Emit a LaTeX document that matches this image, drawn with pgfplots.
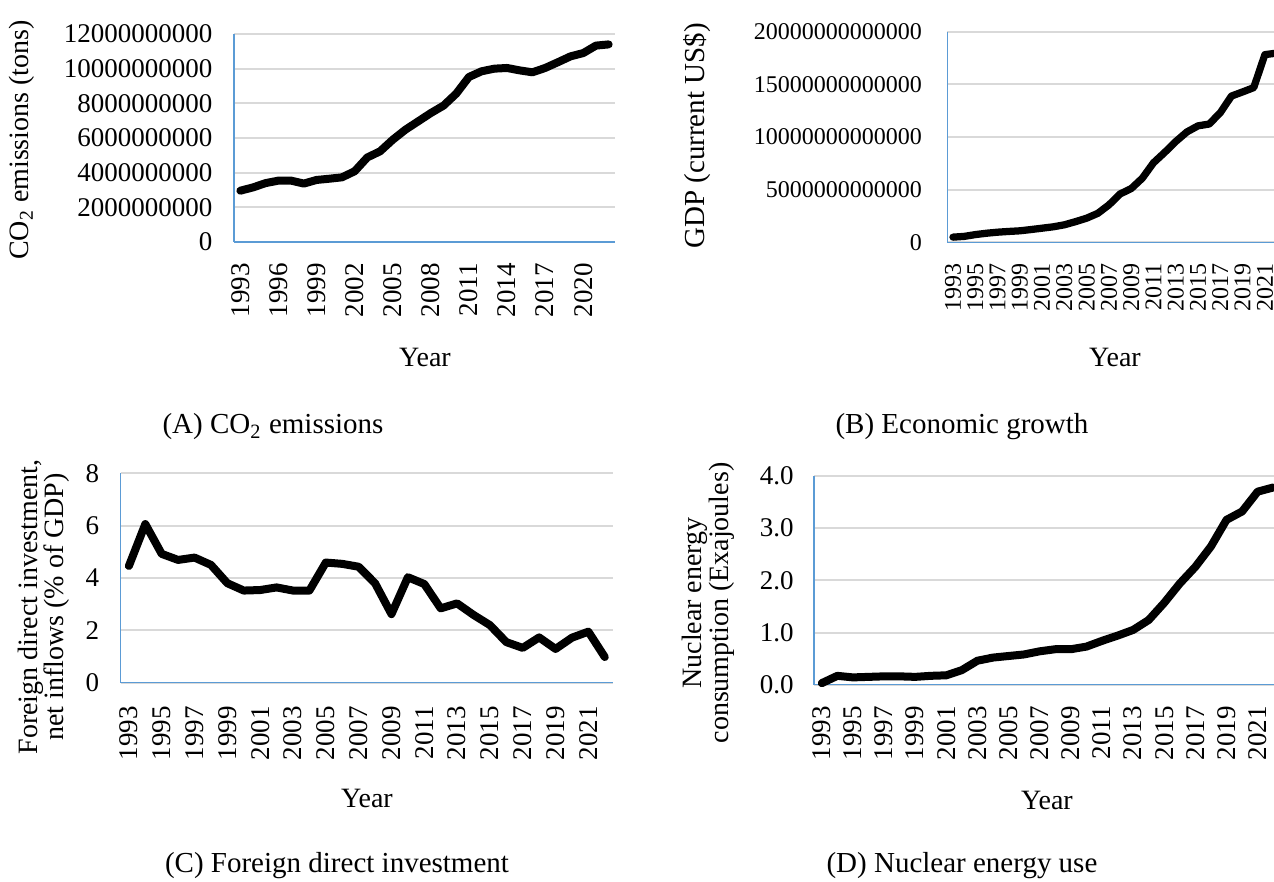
\documentclass[border=0pt]{standalone}
\usepackage{fontspec}
\setmainfont{Liberation Serif}
\usepackage{pgfplots}
\pgfplotsset{compat=1.18}
\definecolor{axblue}{HTML}{5B9BD5}
\definecolor{grd}{HTML}{D9D9D9}
\newcommand{\U}{0.4pt}
\newcommand{\tickfont}{\fontsize{10.8}{12}\selectfont}
\newcommand{\labfont}{\fontsize{11.2}{12.5}\selectfont}
\newcommand{\capfont}{\fontsize{11.6}{13}\selectfont}

\pgfplotstableread{
year val
1993 2.96e9
1994 3.15e9
1995 3.40e9
1996 3.54e9
1997 3.54e9
1998 3.37e9
1999 3.58e9
2000 3.65e9
2001 3.73e9
2002 4.08e9
2003 4.88e9
2004 5.23e9
2005 5.90e9
2006 6.48e9
2007 6.96e9
2008 7.44e9
2009 7.87e9
2010 8.56e9
2011 9.52e9
2012 9.85e9
2013 10.00e9
2014 10.04e9
2015 9.90e9
2016 9.79e9
2017 10.04e9
2018 10.37e9
2019 10.71e9
2020 10.90e9
2021 11.33e9
2022 11.40e9
}\co

\pgfplotstableread{
year val
1993 0.49e12
1994 0.56e12
1995 0.73e12
1996 0.86e12
1997 0.96e12
1998 1.03e12
1999 1.09e12
2000 1.21e12
2001 1.34e12
2002 1.47e12
2003 1.66e12
2004 1.96e12
2005 2.29e12
2006 2.75e12
2007 3.55e12
2008 4.59e12
2009 5.10e12
2010 6.09e12
2011 7.55e12
2012 8.53e12
2013 9.57e12
2014 10.48e12
2015 11.06e12
2016 11.23e12
2017 12.31e12
2018 13.89e12
2019 14.28e12
2020 14.69e12
2021 17.82e12
2022 17.96e12
}\gdp

\pgfplotstableread{
year val
1993 4.46
1994 6.06
1995 4.92
1996 4.69
1997 4.78
1998 4.50
1999 3.80
2000 3.52
2001 3.54
2002 3.64
2003 3.52
2004 3.52
2005 4.59
2006 4.54
2007 4.43
2008 3.80
2009 2.62
2010 4.03
2011 3.77
2012 2.84
2013 3.03
2014 2.59
2015 2.20
2016 1.55
2017 1.33
2018 1.73
2019 1.29
2020 1.72
2021 1.95
2022 0.98
}\fdi

\pgfplotstableread{
year val
1993 0.03
1994 0.17
1995 0.14
1996 0.15
1997 0.16
1998 0.16
1999 0.15
2000 0.17
2001 0.18
2002 0.28
2003 0.46
2004 0.52
2005 0.55
2006 0.58
2007 0.64
2008 0.68
2009 0.68
2010 0.73
2011 0.84
2012 0.94
2013 1.05
2014 1.24
2015 1.57
2016 1.94
2017 2.26
2018 2.65
2019 3.16
2020 3.32
2021 3.70
2022 3.78
}\nuc

\pgfplotsset{
  panel/.style={
    scale only axis,
    anchor=south west,
    axis lines=left,
    axis line style={-, draw=axblue, line width=0.6pt},
    ymajorgrids,
    grid style={draw=grd, line width=0.8pt},
    major tick length=0pt,
    xmin=1992.5, xmax=2022.5,
    clip=false,
    scaled y ticks=false,
    scaled x ticks=false,
    /pgf/number format/assume math mode=true,
    yticklabel style={font=\tickfont, anchor=east, inner sep=0pt,
      /pgf/number format/fixed, /pgf/number format/precision=0,
      /pgf/number format/1000 sep={}},
    xticklabel style={font=\tickfont, rotate=90, anchor=east, inner sep=0pt,
      /pgf/number format/1000 sep={}},
  },
  dataline/.style={black, no markers, line width=3.2pt, line join=round, line cap=round},
}

\begin{document}
\begin{tikzpicture}
\path[use as bounding box] (0,0) rectangle (509.6pt,-352.8pt);

% ---------- (A) ----------
\begin{axis}[panel,
  at={(93.6pt,-96.8pt)},
  width=152.4pt, height=83.2pt,
  ymin=0, ymax=12e9, ytick={0,2e9,4e9,6e9,8e9,10e9,12e9},
  xtick={1993,1996,...,2020},
  yticklabel shift=8.4pt, xticklabel shift=8.4pt]
\addplot[dataline] table[x=year,y=val]{\co};
\end{axis}
\node[rotate=90, font=\labfont] at (22*\U,-140*\U) {CO\textsubscript{2} emissions (tons)};
\node[font=\labfont] at (425*\U,-357*\U) {Year};
\node[font=\capfont] at (273*\U,-427*\U) {(A) CO\textsubscript{2} emissions};

% ---------- (B) ----------
\begin{axis}[panel,
  at={(378.96pt,-96.92pt)},
  width=133.68pt, height=84.24pt,
  ymin=0, ymax=2e13, ytick={0,5e12,1e13,1.5e13,2e13},
  xtick={1993,1995,...,2021},
  yticklabel style={font=\fontsize{9.6}{11}\selectfont},
  xticklabel style={font=\fontsize{9.6}{11}\selectfont},
  yticklabel shift=10pt, xticklabel shift=8.4pt]
\addplot[dataline, line width=2.9pt] table[x=year,y=val]{\gdp};
\end{axis}
\node[rotate=90, font=\fontsize{11.6}{13}\selectfont] at (697*\U,-136*\U) {GDP (current US\$)};
\node[font=\labfont] at (1115*\U,-357*\U) {Year};
\node[font=\capfont] at (962*\U,-427*\U) {(B) Economic growth};

% ---------- (C) ----------
\begin{axis}[panel,
  at={(48.28pt,-273.08pt)},
  width=196.92pt, height=83.76pt,
  ymin=0, ymax=8, ytick={0,2,4,6,8},
  xtick={1993,1995,...,2021},
  yticklabel shift=8.4pt, xticklabel shift=9.2pt]
\addplot[dataline] table[x=year,y=val]{\fdi};
\end{axis}
\node[rotate=90, align=center, font=\fontsize{11.2}{10.6}\selectfont] at (44*\U,-607*\U) {Foreign direct investment,\\net inflows (\% of GDP)};
\node[font=\labfont] at (367*\U,-798*\U) {Year};
\node[font=\capfont] at (337*\U,-866*\U) {(C) Foreign direct investment};

% ---------- (D) ----------
\begin{axis}[panel,
  at={(325.6pt,-273.88pt)},
  width=186.8pt, height=83.48pt,
  ymin=0, ymax=4, ytick={0,1,2,3,4},
  yticklabel style={/pgf/number format/fixed zerofill, /pgf/number format/precision=1},
  xtick={1993,1995,...,2021},
  yticklabel shift=8pt, xticklabel shift=8.4pt]
\addplot[dataline] table[x=year,y=val]{\nuc};
\end{axis}
\node[rotate=90, align=center, font=\fontsize{11.2}{10.8}\selectfont] at (708*\U,-603*\U) {Nuclear energy\\consumption (Exajoules)};
\node[font=\labfont] at (1047*\U,-800*\U) {Year};
\node[font=\capfont] at (962*\U,-866*\U) {(D) Nuclear energy use};
\end{tikzpicture}
\end{document}
